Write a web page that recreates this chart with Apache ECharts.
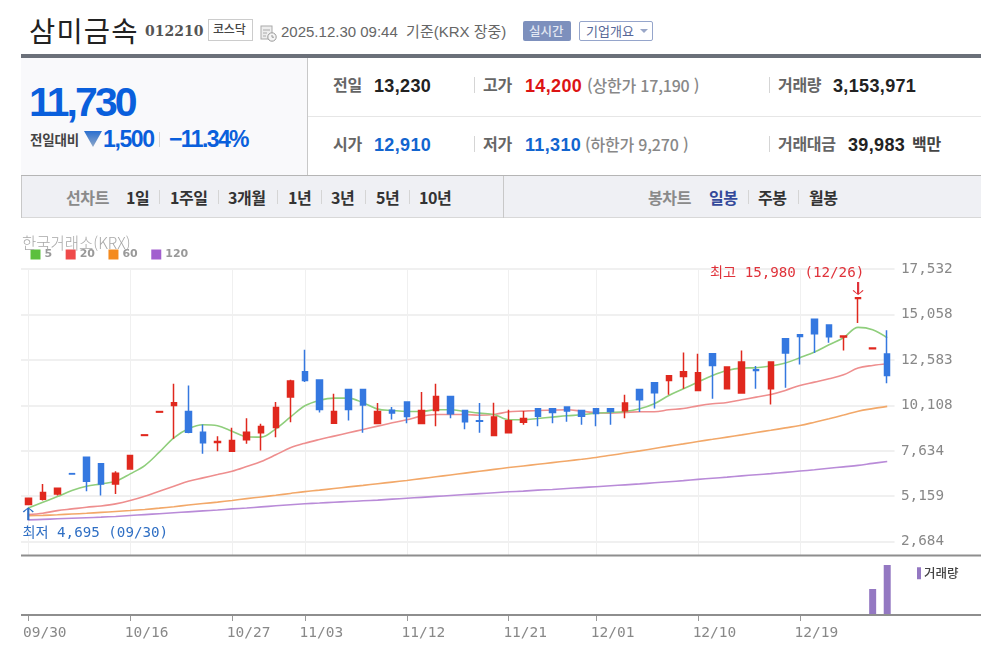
<!DOCTYPE html>
<html lang="ko">
<head>
<meta charset="utf-8">
<title>삼미금속 012210</title>
<script src="https://cdn.jsdelivr.net/npm/echarts@6/dist/echarts.min.js"></script>
<style>
html,body{margin:0;padding:0;background:#fff;width:981px;height:660px;overflow:hidden;font-family:"Noto Sans CJK KR","Liberation Sans",sans-serif}
.b{position:absolute}
.t{position:absolute;white-space:nowrap;transform:translateY(-50%);line-height:1}
.lab{font-size:16px;font-weight:700;color:#666;letter-spacing:-.3px;margin-top:-1px}
.val{font-family:"Liberation Sans",sans-serif;font-size:18px;font-weight:700;color:#222;letter-spacing:.35px;margin-top:1px}
.lim{font-family:"Noto Sans CJK KR",sans-serif;font-size:16px;font-weight:500;color:#888;letter-spacing:-.2px}
.blue{color:#1265cf}.red{color:#dc1414}
.sep{position:absolute;width:1px;background:#d5d5d5}
.nav{font-size:16px;font-weight:700;color:#333;letter-spacing:-.4px}
.navh{font-size:16px;font-weight:700;color:#8a8a8a;letter-spacing:-.4px}
</style>
</head>
<body>
<div class="t" style="left:29px;top:30px;font-size:28.5px;font-weight:400;color:#222;letter-spacing:1.2px">삼미금속</div>
<div class="t" style="left:145px;top:31px;font-family:'DejaVu Serif',serif;font-weight:700;font-size:14px;color:#555">012210</div>
<div class="b" style="left:208px;top:19px;width:43px;height:20px;border:1px solid #ccc"></div>
<div class="t" style="left:213px;top:29px;font-size:12px;font-weight:500;color:#444;letter-spacing:-.2px">코스닥</div>
<svg class="b" style="left:260px;top:25px" width="17" height="17" viewBox="0 0 17 17"><rect x="1" y="1" width="11" height="13" fill="#eee" stroke="#aaa"/><path d="M3 5h7M3 8h4M3 11h3" stroke="#aaa"/><circle cx="12" cy="12" r="4.2" fill="#f5f5f5" stroke="#999"/><path d="M12 10v2.2h2" stroke="#999" fill="none"/></svg>
<div class="t" style="left:281px;top:31px;font-size:15px;color:#666;font-family:'Liberation Sans','Noto Sans CJK KR',sans-serif">2025.12.30 09:44 &nbsp;기준(KRX 장중)</div>
<div class="b" style="left:523px;top:21px;width:48px;height:20px;background:#7d90bd;border-radius:2px"></div>
<div class="t" style="left:529px;top:31px;font-size:12.5px;font-weight:500;color:#e3e8f3">실시간</div>
<div class="b" style="left:579px;top:21px;width:72px;height:18px;border:1px solid #95a5cb;border-radius:2px"></div>
<div class="t" style="left:586px;top:30px;font-size:13px;color:#566796">기업개요</div>
<div class="b" style="left:640px;top:29px;width:0;height:0;border-left:4px solid transparent;border-right:4px solid transparent;border-top:4px solid #9aa7c8"></div>

<div class="b" style="left:21px;top:54px;width:960px;height:4px;background:#6b7079"></div>
<div class="b" style="left:21px;top:58px;width:286px;height:117px;background:#f9f9fb"></div>
<div class="b" style="left:307px;top:58px;width:1px;height:117px;background:#c8c8c8"></div>
<div class="b" style="left:308px;top:116px;width:673px;height:1px;background:#e6e6e6"></div>
<div class="b" style="left:21px;top:175px;width:960px;height:1px;background:#b5b5b5"></div>

<div class="t" style="left:29px;top:102px;font-family:'Liberation Sans',sans-serif;font-weight:700;font-size:41px;color:#0a5fdc;letter-spacing:-2.9px">11,730</div>
<div class="t" style="left:30px;top:140px;font-size:13.5px;font-weight:700;color:#444;letter-spacing:-.2px">전일대비</div>
<svg class="b" style="left:84px;top:131px" width="18" height="16" viewBox="0 0 18 16"><defs><linearGradient id="g" x1="0" y1="0" x2="0" y2="1"><stop offset="0" stop-color="#2a6fd0"/><stop offset="1" stop-color="#8fa8c8"/></linearGradient></defs><path d="M0 0H18L9 16Z" fill="url(#g)"/></svg>
<div class="t" style="left:103px;top:139px;font-family:'Liberation Sans',sans-serif;font-weight:700;font-size:23px;color:#0a5fdc;letter-spacing:-1.4px">1,500</div>
<div class="sep" style="left:159px;top:132px;height:15px"></div>
<div class="t" style="left:169px;top:139px;font-family:'Liberation Sans',sans-serif;font-weight:700;font-size:23px;color:#0a5fdc;letter-spacing:-1.6px">−11.34%</div>

<div class="t lab" style="left:333px;top:85px">전일</div>
<div class="t val" style="left:374px;top:85px">13,230</div>
<div class="sep" style="left:474px;top:77px;height:16px"></div>
<div class="t lab" style="left:483px;top:85px">고가</div>
<div class="t val red" style="left:525px;top:85px">14,200</div>
<div class="t lim" style="left:587px;top:85px">(상한가 17,190 )</div>
<div class="sep" style="left:769px;top:77px;height:16px"></div>
<div class="t lab" style="left:778px;top:85px">거래량</div>
<div class="t val" style="left:833px;top:85px">3,153,971</div>

<div class="t lab" style="left:333px;top:144px">시가</div>
<div class="t val blue" style="left:374px;top:144px">12,910</div>
<div class="sep" style="left:474px;top:136px;height:16px"></div>
<div class="t lab" style="left:483px;top:144px">저가</div>
<div class="t val blue" style="left:525px;top:144px">11,310</div>
<div class="t lim" style="left:585px;top:144px">(하한가 9,270 )</div>
<div class="sep" style="left:769px;top:136px;height:16px"></div>
<div class="t lab" style="left:778px;top:144px">거래대금</div>
<div class="t val" style="left:848px;top:144px">39,983</div>
<div class="t lab" style="left:912px;top:144px;color:#444">백만</div>

<div class="b" style="left:21px;top:176px;width:960px;height:41px;background:#eff0f4;border-bottom:1px solid #d8d8d8"></div>
<div class="b" style="left:21px;top:176px;width:1px;height:42px;background:#c8c8c8"></div>
<div class="b" style="left:503px;top:176px;width:1px;height:42px;background:#c8c8c8"></div>
<div class="t navh" style="left:66px;top:197px">선차트</div>
<div class="t nav" style="left:126px;top:197px">1일</div><div class="sep" style="left:159px;top:190px;height:14px"></div>
<div class="t nav" style="left:170px;top:197px">1주일</div><div class="sep" style="left:218px;top:190px;height:14px"></div>
<div class="t nav" style="left:228px;top:197px">3개월</div><div class="sep" style="left:277px;top:190px;height:14px"></div>
<div class="t nav" style="left:288px;top:197px">1년</div><div class="sep" style="left:321px;top:190px;height:14px"></div>
<div class="t nav" style="left:331px;top:197px">3년</div><div class="sep" style="left:365px;top:190px;height:14px"></div>
<div class="t nav" style="left:376px;top:197px">5년</div><div class="sep" style="left:409px;top:190px;height:14px"></div>
<div class="t nav" style="left:419px;top:197px">10년</div>
<div class="t navh" style="left:648px;top:197px">봉차트</div>
<div class="t nav" style="left:709px;top:197px;color:#34499a">일봉</div><div class="sep" style="left:748px;top:190px;height:14px"></div>
<div class="t nav" style="left:758px;top:197px">주봉</div><div class="sep" style="left:798px;top:190px;height:14px"></div>
<div class="t nav" style="left:809px;top:197px">월봉</div>

<div id="chart" class="b" style="left:0;top:0;width:981px;height:660px"></div>
<script>
const dates = ['09/30','10/01','10/02','10/10','10/13','10/14','10/15','10/16','10/17','10/20','10/21','10/22','10/23','10/24','10/27','10/28','10/29','10/30','10/31','11/03','11/04','11/05','11/06','11/07','11/10','11/11','11/12','11/13','11/14','11/17','11/18','11/19','11/20','11/21','11/24','11/25','11/26','11/27','11/28','12/01','12/02','12/03','12/04','12/05','12/08','12/09','12/10','12/11','12/12','12/15','12/16','12/17','12/18','12/19','12/22','12/23','12/24','12/26','12/29','12/30'];
const dateTicks = ['09/30','10/16','10/27','11/03','11/12','11/21','12/01','12/10','12/19'];
const priceTicks = [2684,5159,7634,10108,12583,15058,17532];
const opens  = [4710,4996,5287,6390,7285,6922,5832,6649,8470,9740,10102,9775,8648,8085,7612,8231,8613,8903,10557,11938,11484,9140,10975,10975,9122,9848,10284,9122,9830,10593,9830,9270,8467,8613,9194,9921,9921,10012,9830,9921,9921,9812,10975,11338,11466,11684,10920,12918,11010,10774,12050,11010,13736,13954,14790,14481,13825,15930,13190,12910];
const closes = [5050,5360,5596,6370,5977,5832,6413,7376,8500,9770,10247,8648,8067,8140,8194,8649,8958,9994,11429,11465,9885,9776,9885,10121,9776,9685,9503,9830,10593,9649,9212,9240,9467,9267,9394,9521,9721,9794,9521,9667,9776,10230,10412,10793,11720,11938,11883,12282,12192,12464,12010,12464,12955,13863,14009,13845,13881,15960,13230,11730];
const lows   = [4695,4923,5196,6370,5432,5196,5287,6649,8470,9740,8285,8594,7467,7612,7612,8013,7650,8377,9194,11375,9721,9140,9285,8613,9122,9340,9140,9122,8976,9412,8813,8613,8467,8613,9049,8976,9140,9213,9049,8976,9049,9412,9740,9939,10684,11011,10920,10465,11010,10774,11010,10157,11065,12337,12955,13518,13100,14590,13190,11310];
const highs  = [5060,5832,5614,6390,7285,6922,6522,7376,8500,9770,11283,11192,9066,8430,8884,9412,9103,10284,11502,13137,11484,10739,10975,10975,10230,10012,10284,10830,11284,10593,9830,10230,10248,9867,9794,9921,9921,10012,9830,9921,9921,10684,10975,11338,11720,12992,12918,12918,12228,13100,12246,12464,13736,13954,14790,14481,13881,15980,13230,14200];
const ma5   = [4524,4832,5141,5468,5705,5832,5977,6377,6831,7558,8339,8830,9048,8993,8703,8400,8377,8831,9467,10085,10375,10503,10503,10248,9903,9830,9776,9776,9867,9867,9776,9685,9612,9322,9322,9394,9467,9540,9594,9685,9721,9776,9921,10194,10648,11011,11374,11737,12010,12137,12155,12246,12410,12700,13009,13409,13790,14354,14227,13790];
const ma20  = [4160,4233,4378,4469,4560,4632,4742,4923,5159,5432,5705,5977,6159,6340,6522,6777,7050,7414,7795,8050,8250,8431,8613,8795,8976,9158,9321,9521,9612,9612,9612,9570,9612,9758,9794,9830,9848,9867,9794,9703,9685,9721,9758,9758,9867,9939,10080,10193,10265,10411,10556,10702,10920,11192,11374,11555,11773,12137,12282,12373];
const ma60  = [4100,4120,4150,4190,4230,4280,4330,4380,4440,4510,4590,4680,4760,4840,4930,5030,5120,5210,5310,5410,5490,5580,5670,5750,5840,5930,6020,6120,6220,6320,6420,6520,6620,6720,6810,6900,6990,7080,7170,7270,7390,7510,7630,7760,7890,8010,8140,8260,8380,8500,8630,8750,8880,9010,9190,9380,9580,9790,9930,10050];
const ma120 = [3870,3900,3930,3960,3990,4020,4060,4110,4160,4210,4260,4310,4360,4410,4470,4520,4580,4640,4700,4750,4790,4830,4870,4910,4950,5000,5050,5100,5150,5200,5250,5300,5350,5400,5440,5490,5530,5580,5630,5680,5730,5780,5830,5890,5950,6010,6080,6140,6200,6270,6330,6390,6460,6530,6600,6680,6760,6840,6950,7050];
const volumes = dates.map(d => 0);
volumes[58] = 1640000;
volumes[59] = 3153971;

const mono = '"DejaVu Sans Mono","Noto Sans CJK KR",monospace';
const isTick = (i) => dateTicks.includes(dates[i]);
const up = '#e0281e', down = '#3578e0';
const grid = '#f0f0f0';
const candle = dates.map((d,i)=>[opens[i],closes[i],lows[i],highs[i]]);
const line = (name, data, solid, soft) => ({
  name, type:'line', data, xAxisIndex:0, yAxisIndex:0, smooth:0.35, symbol:'none', z:2,
  itemStyle:{color:solid}, lineStyle:{color:soft,width:1.6}
});
const chart = echarts.init(document.getElementById('chart'), null, {renderer:'canvas'});
chart.setOption({
  animation:false,
  backgroundColor:'transparent',
  title:{text:'한국거래소(KRX)',left:17,top:230,textStyle:{fontSize:15.5,fontWeight:300,color:'#a8a8a8',fontFamily:'"Noto Sans CJK KR",sans-serif'}},
  legend:[
    {data:['5','20','60','120'],left:25.5,top:244,icon:'rect',itemWidth:10,itemHeight:10,itemGap:13.5,selectedMode:false,
     textStyle:{fontSize:11,fontWeight:700,color:'#999',fontFamily:'"DejaVu Sans",sans-serif',padding:[0,0,0,-1]}},
    {data:['거래량'],left:912,top:562,icon:'rect',itemWidth:4,itemHeight:12,itemGap:0,selectedMode:false,
     textStyle:{fontSize:12.5,fontWeight:500,color:'#444',fontFamily:'"Noto Sans CJK KR",sans-serif',padding:[0,0,0,-2]}}
  ],
  grid:[
    {left:21,top:269,width:873.5,height:286},
    {left:21,top:565,width:873.5,height:50}
  ],
  xAxis:[
    {type:'category',gridIndex:0,data:dates,boundaryGap:true,axisLine:{show:false},axisTick:{show:false},axisLabel:{show:false},
     splitLine:{show:true,alignWithLabel:true,interval:(i)=>isTick(i),lineStyle:{color:grid,width:1}}},
    {type:'category',gridIndex:1,data:dates,boundaryGap:true,axisLine:{show:false},
     axisTick:{show:true,alignWithLabel:true,length:6,interval:(i)=>isTick(i),lineStyle:{color:'#999'}},
     axisLabel:{show:true,interval:(i)=>isTick(i),margin:11,fontSize:14.5,color:'#888',fontFamily:mono,padding:[0,0,0,33]},
     splitLine:{show:false}}
  ],
  yAxis:[
    {type:'value',gridIndex:0,position:'right',min:1960,max:17532,axisLine:{show:false},
     axisTick:{show:false,customValues:priceTicks},
     axisLabel:{customValues:priceTicks,margin:6.5,fontSize:14.3,color:'#888',fontFamily:mono,padding:[2,0,0,0],formatter:(v)=>Number(v).toLocaleString('en-US')},
     splitLine:{show:true,lineStyle:{color:grid,width:2}}},
    {type:'value',gridIndex:1,min:0,max:3153971,show:false,splitLine:{show:false}}
  ],
  graphic:[
    {type:'line',z:5,shape:{x1:21,y1:555.5,x2:981,y2:555.5},style:{stroke:'#8e8e8e',lineWidth:2}},
    {type:'line',z:5,shape:{x1:21,y1:615,x2:981,y2:615},style:{stroke:'#8e8e8e',lineWidth:2}}
  ],
  series:[
    line('120',ma120,'#a25fcf','#b98bd8'),
    line('60',ma60,'#f48a1e','#f2a869'),
    line('20',ma20,'#ef4a4a','#ee8e8e'),
    line('5',ma5,'#5cc03e','#8fce7c'),
    {name:'봉',type:'candlestick',data:candle,xAxisIndex:0,yAxisIndex:0,barWidth:6,z:3,
     itemStyle:{color:up,color0:down,borderColor:up,borderColor0:down,borderWidth:1.5},
     markPoint:{
       data:[
        {coord:['12/26',15980],symbol:'path://M4 0H6V12L9 8.5L10 9.5L5 14L0 9.5L1 8.5L4 12Z',symbolSize:[11,13],symbolOffset:[0,-9],
         itemStyle:{color:'#e0323a'},
         label:{show:true,formatter:'최고 15,980 (12/26)',color:'#e0323a',fontSize:14.2,fontFamily:mono,position:'inside',offset:[-71,-15]}},
        {coord:['09/30',4695],symbol:'path://M4 14H6V2L9 5.5L10 4.5L5 0L0 4.5L1 5.5L4 2Z',symbolSize:[11,13],symbolOffset:[0,9],
         itemStyle:{color:'#2f6fc4'},
         label:{show:true,formatter:'최저 4,695 (09/30)',color:'#2f6fc4',fontSize:14.2,fontFamily:mono,position:'inside',offset:[67,20]}}
       ]
     }},
    {name:'거래량',type:'bar',data:volumes,xAxisIndex:1,yAxisIndex:1,barWidth:7,itemStyle:{color:'#9478c2'}}
  ]
});
</script>
</body>
</html>
